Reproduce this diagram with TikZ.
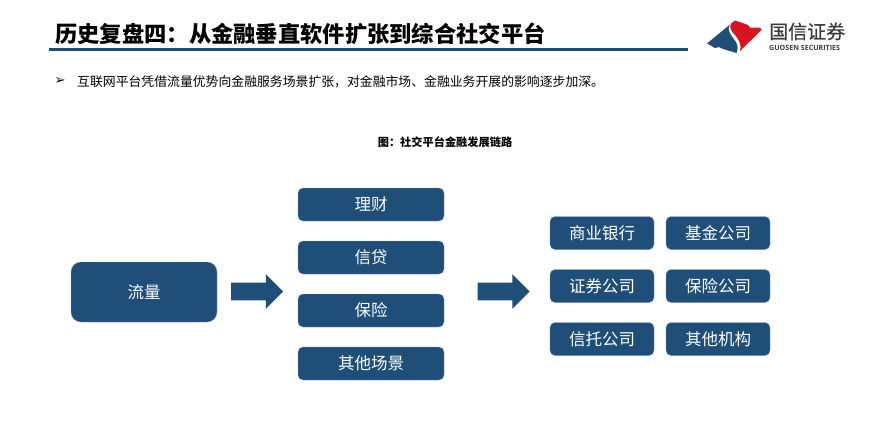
\documentclass[tikz,border=0pt]{standalone}
\usepackage{fontspec}
\setmainfont{Noto Sans CJK SC}
\newfontfamily\bulletfont{DejaVu Sans}
\newfontfamily\latinfont{Open Sans}
\newfontfamily\logofont[FakeBold=0.6]{Noto Sans CJK SC}
\usetikzlibrary{shapes.arrows}
\definecolor{gsblue}{HTML}{1F4E79}
\definecolor{gsedge}{HTML}{6F9CC4}
\definecolor{gsred}{HTML}{D7141F}
\definecolor{gsgrey}{HTML}{3C3C3C}
\tikzset{
  bigbox/.style={draw=gsedge, line width=0.3pt, fill=gsblue, rounded corners=10pt, text=white,
    minimum width=146pt, minimum height=60pt, inner sep=0pt, font=\fontsize{16.5}{18}\selectfont},
  midbox/.style={bigbox, rounded corners=5pt, minimum height=33pt},
  smallbox/.style={midbox, minimum width=104pt, minimum height=33pt},
  bigarrow/.style={single arrow, fill=gsblue, inner xsep=0pt, inner ysep=8.7pt, anchor=tip,
    minimum height=52pt, single arrow head extend=8.5pt, single arrow tip angle=90},
}
\begin{document}
\begin{tikzpicture}[x=1pt,y=-1pt]
  \useasboundingbox (0,0) rectangle (889,440);

  % Title and rule
  \node[anchor=west, inner sep=0pt, font=\fontsize{22.3}{24}\selectfont\bfseries] (title) at (55,33.5)
    {历史复盘四：从金融垂直软件扩张到综合社交平台};
  \coordinate (ruleleft) at (49,49.5);
  \coordinate (ruleright) at (688,49.5);
  \draw[gsblue, line width=3pt] (ruleleft) -- (ruleright);

  % Logo
  \fill[gsblue] (707,43.5) -- (730,24.5) .. controls (726,31) and (732,36) .. (736,42)
    .. controls (738,46) and (738,50) .. (736.5,53) -- (723,49) -- (719,47) -- (715,48) -- cycle;
  \fill[gsred] (731,23.5) -- (735,20.5) -- (748,25) -- (750,27.5) -- (760,27.5) -- (761.5,30) -- (740,51)
    .. controls (742,45) and (739,40) .. (735,35) .. controls (731,31) and (729,28) .. (731,23.5) -- cycle;
  \node[anchor=west, inner sep=0pt, text=gsgrey, font=\logofont\fontsize{19}{20}\selectfont] (logocn) at (769,31.5) {国信证券};
  \node[anchor=west, inner sep=0pt, text=gsgrey, font=\latinfont\fontsize{7.1}{8}\selectfont\bfseries] (logoen) at (769,47.5) {GUOSEN SECURITIES};

  % Bullet line
  \node[inner sep=0pt, font=\bulletfont\fontsize{13}{14}\selectfont] (bullet) at (60,81.5) {➢};
  \node[anchor=west, inner sep=0pt, font=\fontsize{12.85}{14}\selectfont] (summary) at (77,81.7)
    {互联网平台凭借流量优势向金融服务场景扩张，对金融市场、金融业务开展的影响逐步加深。};

  % Caption
  \node[inner sep=0pt, font=\fontsize{11.2}{13}\selectfont\bfseries] (caption) at (445,142.5)
    {图：社交平台金融发展链路};

  % Left box
  \node[bigbox] (traffic) at (144,292) {流量};
  \node[bigarrow] (arrowa) at (283.5,291.5) {};
  \node[bigarrow] (arrowb) at (530,291.5) {};

  % Middle column
  \foreach \name/\y/\txt in {wealth/204.5/理财, credit/257.5/信贷, insure/310.5/保险, other/363.5/其他场景} {
    \node[midbox] (\name) at (371,\y) {\txt};
  }

  % Right columns
  \foreach \name/\x/\y/\txt in {bank/602/233/商业银行, fund/718/233/基金公司,
      broker/602/286/证券公司, insurer/718/286/保险公司,
      trust/602/339/信托公司, others/718/339/其他机构} {
    \node[smallbox] (\name) at (\x,\y) {\txt};
  }
\end{tikzpicture}
\end{document}
